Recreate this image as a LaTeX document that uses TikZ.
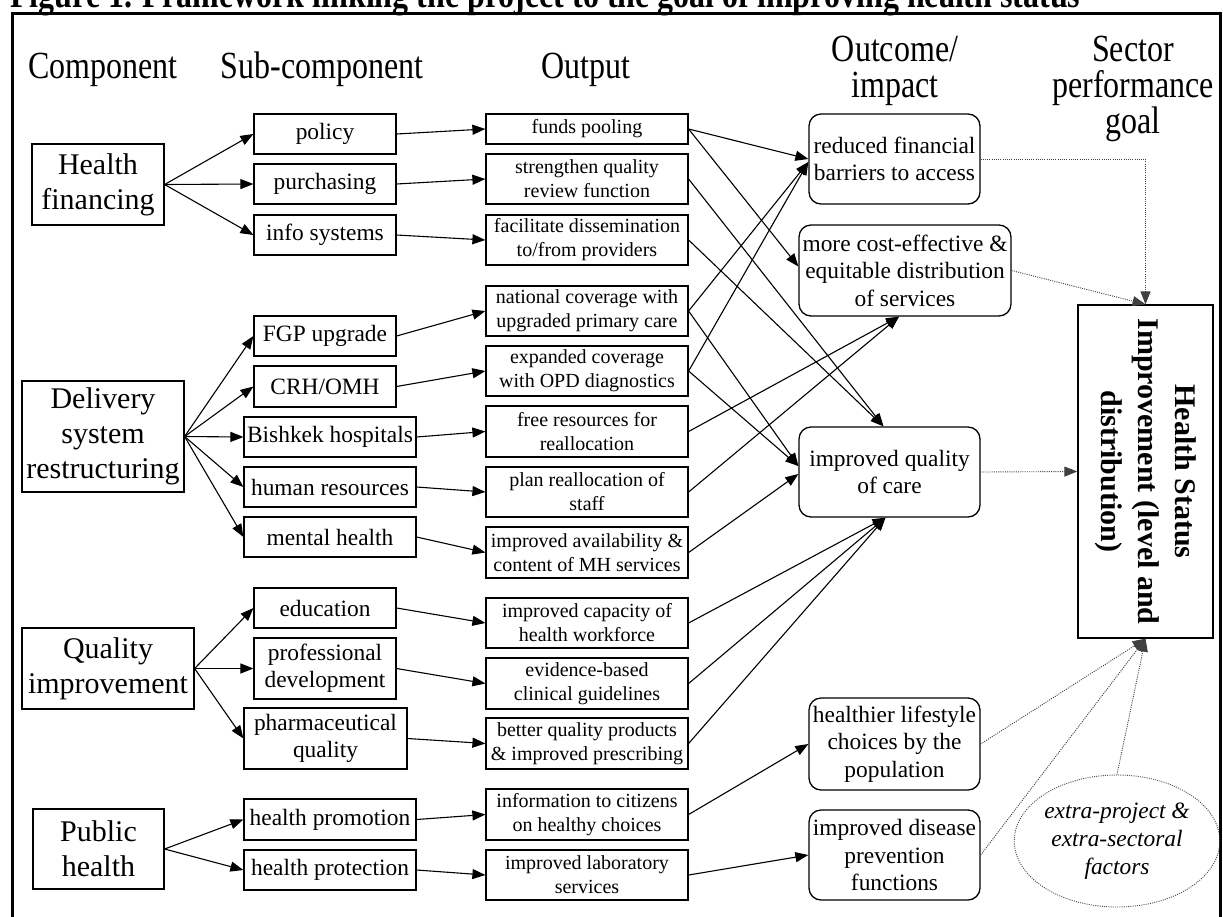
\documentclass[tikz,border=0pt]{standalone}
\usepackage{fontspec}
\usepackage{graphicx}
\setmainfont{Liberation Serif}
\usetikzlibrary{arrows.meta,shapes.geometric}
\newcommand{\hstretch}[1]{\scalebox{1}[1.2]{#1}}
\tikzset{
  sz/.style 2 args={minimum width=#1pt, minimum height=#2pt},
  basebox/.style={draw, line width=1.2pt, inner sep=0pt, align=center},
  comp/.style={basebox, font=\fontsize{30}{35}\selectfont},
  sub/.style={basebox, font=\fontsize{23.4}{27}\selectfont},
  outp/.style={basebox, font=\fontsize{20}{24}\selectfont},
  outc/.style={basebox, line width=1.3pt, rounded corners=12pt, font=\fontsize{23.4}{27.5}\selectfont},
  hdr/.style={anchor=base, inner sep=0pt, font=\fontsize{32}{38}\selectfont},
  arr/.style={line width=1.1pt, -{Triangle[length=13pt,width=10pt]}},
  dotarr/.style={line width=0.9pt, draw=black!75, dash pattern=on 1pt off 1.2pt, -{Triangle[length=13pt,width=10pt]}},
}
\begin{document}
\begin{tikzpicture}[x=1pt,y=-1pt]
\useasboundingbox (0,0) rectangle (1223,916);
\fill[white] (0,0) rectangle (1223,916);
% title and frame
\node[anchor=base west, inner sep=0pt, font=\fontsize{32}{36}\selectfont\bfseries] (title) at (10,7) {\hstretch{Figure 1. Framework linking the project to the goal of improving health status}};
\draw[line width=3pt] (12,940) -- (12,13.5) -- (1220,13.5) -- (1220,940);
% headers
\node[hdr] (h1) at (103,78) {\hstretch{Component}};
\node[hdr] (h2) at (322,78) {\hstretch{Sub-component}};
\node[hdr] (h3) at (586,78) {\hstretch{Output}};
\node[hdr] (h4a) at (895,61) {\hstretch{Outcome/}};
\node[hdr] (h4b) at (895,97) {\hstretch{impact}};
\node[hdr] (h5a) at (1133,61) {\hstretch{Sector}};
\node[hdr] (h5b) at (1133,97) {\hstretch{performance}};
\node[hdr] (h5c) at (1133,133) {\hstretch{goal}};
% components
\node[comp, sz={132}{81}] (hf) at (98,184.5) {Health\\financing};
\node[comp, sz={162}{111}] (dsr) at (103,436.5) {Delivery\\system\\restructuring};
\node[comp, sz={172}{81}] (qi) at (108,668.5) {Quality\\improvement};
\node[comp, sz={131}{80}] (ph) at (98.5,849) {Public\\health};
% sub-components
\node[sub, sz={142}{40}] (policy) at (325,134) {policy};
\node[sub, sz={142}{40}] (purch) at (325,184) {purchasing};
\node[sub, sz={142}{40}] (info) at (325,235) {info systems};
\node[sub, sz={142}{40}] (fgp) at (325,336) {FGP upgrade};
\node[sub, sz={142}{41}] (crh) at (325,386.5) {CRH/OMH};
\node[sub, sz={172}{40}] (bish) at (330,437) {Bishkek hospitals};
\node[sub, sz={172}{40}] (hr) at (330,487) {human resources};
\node[sub, sz={172}{40}] (mh) at (330,537) {mental health};
\node[sub, sz={142}{40}] (edu) at (325,608) {education};
\node[sub, sz={142}{61}] (pd) at (325,668.5) {professional\\development};
\node[sub, sz={163}{61}] (pharm) at (325.5,738.5) {pharmaceutical\\quality};
\node[sub, sz={172}{41}] (hprom) at (330,819.5) {health promotion};
\node[sub, sz={172}{40}] (hprot) at (330,870) {health protection};
% outputs
\node[outp, sz={202}{30}] (fp) at (587,129) {funds pooling};
\node[outp, sz={202}{50}] (sq) at (587,179) {strengthen quality\\review function};
\node[outp, sz={202}{50}] (fd) at (587,240) {facilitate dissemination\\to/from providers};
\node[outp, sz={202}{50}] (nc) at (587,311) {national coverage with\\upgraded primary care};
\node[outp, sz={202}{50}] (ec) at (587,371) {expanded coverage\\with OPD diagnostics};
\node[outp, sz={202}{51}] (fr) at (587,431.5) {free resources for\\reallocation};
\node[outp, sz={202}{50}] (pr) at (587,492) {plan reallocation of\\staff};
\node[outp, sz={202}{51}] (ia) at (587,552.5) {improved availability \&\\content of MH services};
\node[outp, sz={202}{50}] (ic) at (587,623) {improved capacity of\\health workforce};
\node[outp, sz={202}{51}] (eb) at (587,683.5) {evidence-based\\clinical guidelines};
\node[outp, sz={202}{51}] (bq) at (587,743.5) {better quality products\\\& improved prescribing};
\node[outp, sz={202}{51}] (ci) at (587,814.5) {information to citizens\\on healthy choices};
\node[outp, sz={202}{50}] (ls) at (587,875) {improved laboratory\\services};
% outcomes
\node[outc, sz={171}{90}] (rfb) at (894.5,159) {reduced financial\\barriers to access};
\node[outc, sz={212}{91}] (ced) at (905,270.5) {more cost-effective \&\\equitable distribution\\of services};
\node[outc, sz={181}{90}] (iqc) at (889.5,472) {improved quality\\of care};
\node[outc, sz={171}{92}] (hl) at (894.5,744) {healthier lifestyle\\choices by the\\population};
\node[outc, sz={171}{90}] (idp) at (894.5,855) {improved disease\\prevention\\functions};
% goal
\node[draw, line width=1.3pt, sz={135}{333}, inner sep=0pt, font=\fontsize{30}{37}\selectfont\bfseries] (hs) at (1145.5,471.5)
  {\rotatebox{-90}{\begin{tabular}{@{}c@{}}Health Status\\Improvement (level and\\distribution)\end{tabular}}};
\node[ellipse, draw=black!70, line width=0.9pt, dash pattern=on 1pt off 1.2pt, sz={202}{132}, inner sep=0pt, align=center, font=\fontsize{23.4}{28}\selectfont\itshape] (ell) at (1117,841) {extra-project \&\\extra-sectoral\\factors};
% component -> sub-component
\foreach \t in {policy,purch,info} \draw[arr] (hf.east) -- (\t.west);
\foreach \t in {fgp,crh,bish,hr,mh} \draw[arr] (dsr.east) -- (\t.west);
\foreach \t in {edu,pd,pharm} \draw[arr] (qi.east) -- (\t.west);
\foreach \t in {hprom,hprot} \draw[arr] (ph.east) -- (\t.west);
% sub-component -> output
\draw[arr] (policy.east) -- (fp.west);
\draw[arr] (purch.east) -- (sq.west);
\draw[arr] (info.east) -- (fd.west);
\draw[arr] (fgp.east) -- (nc.west);
\draw[arr] (crh.east) -- (ec.west);
\draw[arr] (bish.east) -- (fr.west);
\draw[arr] (hr.east) -- (pr.west);
\draw[arr] (mh.east) -- (ia.west);
\draw[arr] (edu.east) -- (ic.west);
\draw[arr] (pd.east) -- (eb.west);
\draw[arr] (pharm.east) -- (bq.west);
\draw[arr] (hprom.east) -- (ci.west);
\draw[arr] (hprot.east) -- (ls.west);
% output -> outcome
\draw[arr] (fp.east) -- (rfb.west);
\draw[arr] (fp.east) -- ([yshift=4pt]ced.west);
\draw[arr] (nc.east) -- ([yshift=-3pt]rfb.west);
\draw[arr] (ec.east) -- ([yshift=-3pt]rfb.west);
\draw[arr] (sq.east) -- ([xshift=-6pt]iqc.north);
\draw[arr] (fd.east) -- ([xshift=-6pt]iqc.north);
\draw[arr] (nc.east) -- ([yshift=6pt]iqc.west);
\draw[arr] (ec.east) -- ([yshift=6pt]iqc.west);
\draw[arr] (ia.east) -- ([yshift=-2pt]iqc.west);
\draw[arr] (fr.east) -- ([xshift=-6pt]ced.south);
\draw[arr] (pr.east) -- ([xshift=-6pt]ced.south);
\draw[arr] (ic.east) -- ([xshift=-4pt]iqc.south);
\draw[arr] (eb.east) -- ([xshift=-4pt]iqc.south);
\draw[arr] (bq.east) -- ([xshift=-4pt]iqc.south);
\draw[arr] (ci.east) -- (hl.west);
\draw[arr] (ls.east) -- (idp.west);
% outcome -> goal
\draw[dotarr] (rfb.east) -| (hs.north);
\draw[dotarr] (ced.east) -- (hs.north);
\draw[dotarr] (iqc.east) -- (hs.west);
\draw[dotarr] (hl.east) -- (hs.south);
\draw[dotarr] (idp.east) -- (hs.south);
\draw[dotarr] (ell.north) -- (hs.south);
\end{tikzpicture}
\end{document}
